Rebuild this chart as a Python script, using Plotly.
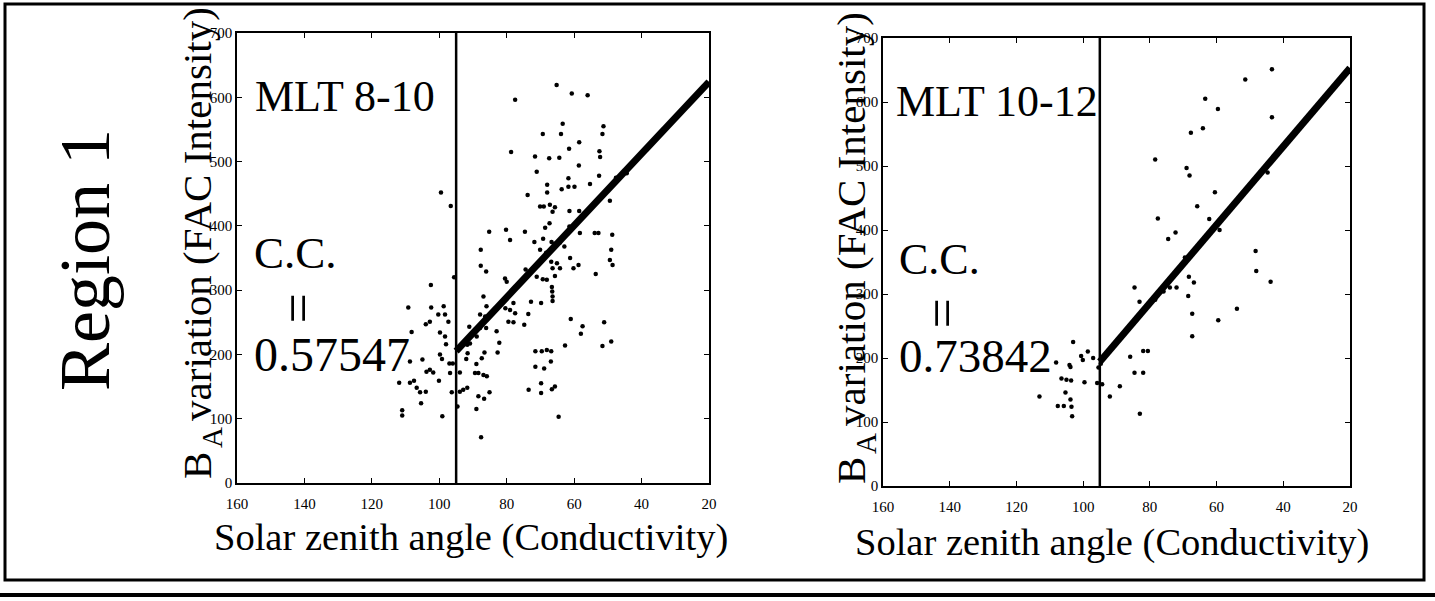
import plotly.graph_objects as go

W, H = 1435, 601

# ---------------- data ----------------
# Left panel: MLT 8-10
left_sza = [65.2, 60.7, 56.0, 77.5, 63.4, 51.3, 69.3, 63.9, 51.6, 58.5,
            61.5, 78.7, 52.5, 52.3, 71.6, 67.4, 64.4, 58.6, 71.1, 52.6,
            61.7, 47.6, 44.4, 68.0, 68.0, 61.7, 59.9, 63.7, 55.3, 99.5,
            73.8, 49.4, 96.6, 70.1, 69.0, 67.2, 65.7, 66.4, 61.4, 58.5,
            67.3, 68.6, 61.4, 85.2, 80.2, 74.6, 58.3, 53.9, 52.8, 48.7,
            79.0, 71.8, 69.2, 66.7, 65.7, 64.2, 62.9, 87.7, 70.1, 68.3,
            49.0, 66.8, 65.1, 61.2, 49.4, 48.6, 87.7, 66.4, 64.2, 60.2,
            58.7, 86.1, 53.6, 74.4, 95.6, 80.5, 80.0, 71.1, 69.3, 68.1,
            65.7, 66.6, 66.5, 66.4, 66.4, 102.5, 86.9, 72.8, 69.8, 78.0,
            98.7, 102.4, 109.2, 86.0, 80.4, 79.0, 77.5, 73.6, 100.3, 98.3,
            87.9, 86.4, 104.0, 102.8, 97.3, 79.5, 78.0, 74.8, 61.0, 51.1,
            91.1, 87.9, 86.1, 57.5, 108.2, 99.8, 83.0, 58.0, 98.3, 88.9,
            82.2, 98.0, 91.7, 90.9, 62.7, 49.0, 51.6, 71.5, 69.6, 68.1,
            66.8, 91.6, 82.7, 99.8, 86.6, 108.7, 105.0, 99.2, 97.0, 96.0,
            92.0, 89.0, 87.4, 66.9, 71.5, 68.9, 102.8, 101.8, 103.8, 96.8,
            93.9, 89.4, 88.4, 86.9, 85.9, 107.5, 100.1, 111.9, 108.7, 106.7,
            105.7, 104.0, 105.4, 96.3, 93.9, 91.7, 92.9, 73.5, 69.8, 69.8,
            66.6, 65.7, 85.1, 88.4, 86.7, 94.6, 89.0, 111.0, 111.0, 99.1,
            64.6, 87.6]
left_ba = [619, 606, 603, 596, 559, 555, 543, 543, 543, 530,
           520, 515, 516, 507, 508, 505, 506, 494, 484, 478,
           474, 475, 482, 464, 452, 461, 461, 457, 465, 452,
           448, 439, 431, 430, 430, 433, 429, 422, 423, 423,
           404, 397, 399, 391, 394, 391, 389, 389, 389, 386,
           378, 375, 380, 375, 372, 374, 368, 363, 363, 358,
           363, 344, 342, 350, 347, 339, 338, 334, 334, 334,
           339, 329, 325, 332, 320, 318, 313, 321, 317, 316,
           322, 305, 298, 290, 283, 308, 290, 282, 280, 280,
           275, 273, 273, 275, 272, 269, 264, 263, 262, 262,
           262, 259, 247, 251, 251, 251, 250, 246, 255, 250,
           243, 241, 241, 244, 235, 234, 236, 232, 228, 228,
           218, 216, 215, 217, 214, 220, 213, 205, 205, 207,
           205, 202, 203, 200, 203, 189, 192, 193, 186, 186,
           193, 185, 194, 189, 181, 178, 176, 172, 173, 171,
           172, 171, 171, 168, 166, 159, 159, 156, 156, 148,
           141, 142, 124, 141, 142, 148, 145, 145, 155, 140,
           146, 150, 141, 135, 131, 119, 115, 113, 105, 104,
           103, 71]

# Right panel: MLT 10-12
right_sza = [43.4, 51.4, 63.4, 59.6, 43.4, 64.1, 67.7, 78.4, 69.0, 68.1,
             44.7, 60.5, 65.8, 62.2, 77.6, 59.1, 72.3, 74.5, 48.3, 69.5,
             68.3, 66.8, 48.1, 43.8, 84.6, 74.0, 72.0, 75.9, 78.4, 83.1,
             68.5, 53.9, 67.3, 59.5, 67.3, 103.0, 98.6, 100.6, 97.0, 100.1,
             95.4, 94.7, 103.8, 104.1, 85.9, 82.0, 80.6, 84.6, 82.0, 106.5,
             105.0, 103.6, 99.6, 95.8, 94.3, 105.3, 89.0, 113.1, 92.0, 107.6,
             105.8, 103.8, 103.5, 103.3, 83.0, 108.1]
right_ba = [651, 635, 605, 589, 576, 559, 552, 510, 497, 485,
            490, 459, 437, 417, 418, 400, 396, 386, 367, 357,
            327, 318, 336, 319, 310, 310, 310, 304, 291, 288,
            297, 277, 269, 259, 234, 225, 210, 203, 200, 197,
            185, 191, 186, 189, 202, 211, 211, 177, 177, 168,
            166, 165, 162, 161, 159, 146, 156, 140, 140, 125,
            125, 135, 124, 109, 113, 193]

# Regression lines and the terminator (vertical line) position
fit_left_x = [95, 20]
fit_left_y = [205, 624]
fit_right_x = [95, 20]
fit_right_y = [194, 653]
terminator_sza = 95

x_ticks = [160, 140, 120, 100, 80, 60, 40, 20]
y_ticks = [0, 100, 200, 300, 400, 500, 600, 700]

panel_labels = ["MLT 8-10", "MLT 10-12"]
cc_values = ["0.57547", "0.73842"]

# ---------------- helpers ----------------
def px(x):
    return x / W

def py(y):
    return 1 - y / H

SERIF = "Liberation Serif, Times New Roman, serif"

fig = go.Figure()

panels = [
    dict(xa="x", ya="y", sza=left_sza, ba=left_ba, fx=fit_left_x, fy=fit_left_y),
    dict(xa="x2", ya="y2", sza=right_sza, ba=right_ba, fx=fit_right_x, fy=fit_right_y),
]
for p in panels:
    fig.add_trace(go.Scatter(x=p["sza"], y=p["ba"], mode="markers",
                             marker=dict(size=4.5, color="black"),
                             xaxis=p["xa"], yaxis=p["ya"], showlegend=False,
                             hoverinfo="x+y"))
    fig.add_trace(go.Scatter(x=[terminator_sza, terminator_sza], y=[0, 700],
                             mode="lines", line=dict(color="black", width=2.5),
                             xaxis=p["xa"], yaxis=p["ya"], showlegend=False,
                             hoverinfo="skip"))
    fig.add_trace(go.Scatter(x=p["fx"], y=p["fy"], mode="lines",
                             line=dict(color="black", width=7),
                             xaxis=p["xa"], yaxis=p["ya"], showlegend=False,
                             hoverinfo="skip"))

axis_common = dict(showgrid=False, zeroline=False, showline=True,
                   linecolor="black", linewidth=1.5, mirror="ticks",
                   ticks="inside", ticklen=5, tickwidth=1, tickcolor="black",
                   automargin=False,
                   tickfont=dict(family=SERIF, size=15, color="black"))

fig.update_layout(
    template="none",
    width=W, height=H,
    margin=dict(l=0, r=0, t=0, b=0, pad=0, autoexpand=False),
    paper_bgcolor="white", plot_bgcolor="white",
    showlegend=False,
    xaxis=dict(domain=[px(237), px(709)], range=[160, 20], tickvals=x_ticks,
               anchor="y", ticklabelstandoff=6, **axis_common),
    yaxis=dict(domain=[py(483), py(33)], range=[0, 700], tickvals=y_ticks,
               anchor="x", **axis_common),
    xaxis2=dict(domain=[px(883), px(1350)], range=[160, 20], tickvals=x_ticks,
                anchor="y2", ticklabelstandoff=6, **axis_common),
    yaxis2=dict(domain=[py(486), py(38)], range=[0, 700], tickvals=y_ticks,
                anchor="x2", **axis_common),
)

ann = []
def add_text(text, x, y, size, xanchor="left", angle=0, yanchor="middle"):
    ann.append(dict(text=text, x=px(x), y=py(y), xref="paper", yref="paper",
                    xanchor=xanchor, yanchor=yanchor, showarrow=False,
                    textangle=angle,
                    font=dict(family=SERIF, size=size, color="black")))

# Big region label
add_text("Region 1", 85, 260, 72, xanchor="center", angle=-90)

# Axis titles (the subscript "A" sits in the gap left after "B")
NB = "\u00a0"
ytitle = "B" + NB * 2 + " variation (FAC Intensity)"
xtitle = "Solar zenith angle (Conductivity)"
add_text(ytitle, 197, 243, 41, xanchor="center", angle=-90)
add_text("A", 212, 438, 29, xanchor="center", angle=-90)
add_text(ytitle, 851, 248, 41, xanchor="center", angle=-90)
add_text("A", 866, 443, 29, xanchor="center", angle=-90)
add_text(xtitle, 471, 537, 38.5, xanchor="center")
add_text(xtitle, 1112, 542, 38.5, xanchor="center")

# Panel annotations
add_text(panel_labels[0], 253, 97, 44)
add_text("C.C.", 252, 253, 45)
add_text("=", 298, 308, 54, xanchor="center", angle=90)
add_text(cc_values[0], 252, 354, 48)

add_text(panel_labels[1], 894, 102, 44)
add_text("C.C.", 897, 259, 44)
add_text("=", 942, 313, 54, xanchor="center", angle=90)
add_text(cc_values[1], 897, 356, 47)

fig.update_layout(annotations=ann)

# Page frame
fig.update_layout(shapes=[
    dict(type="rect", xref="paper", yref="paper",
         x0=px(5), x1=px(1424), y0=py(580), y1=py(4),
         line=dict(color="black", width=3)),
    dict(type="line", xref="paper", yref="paper",
         x0=0, x1=1, y0=py(595), y1=py(595),
         line=dict(color="black", width=4)),
])

fig.write_html("out.html",
               post_script="document.body.style.margin='0';"
                           "document.body.style.padding='0';")
